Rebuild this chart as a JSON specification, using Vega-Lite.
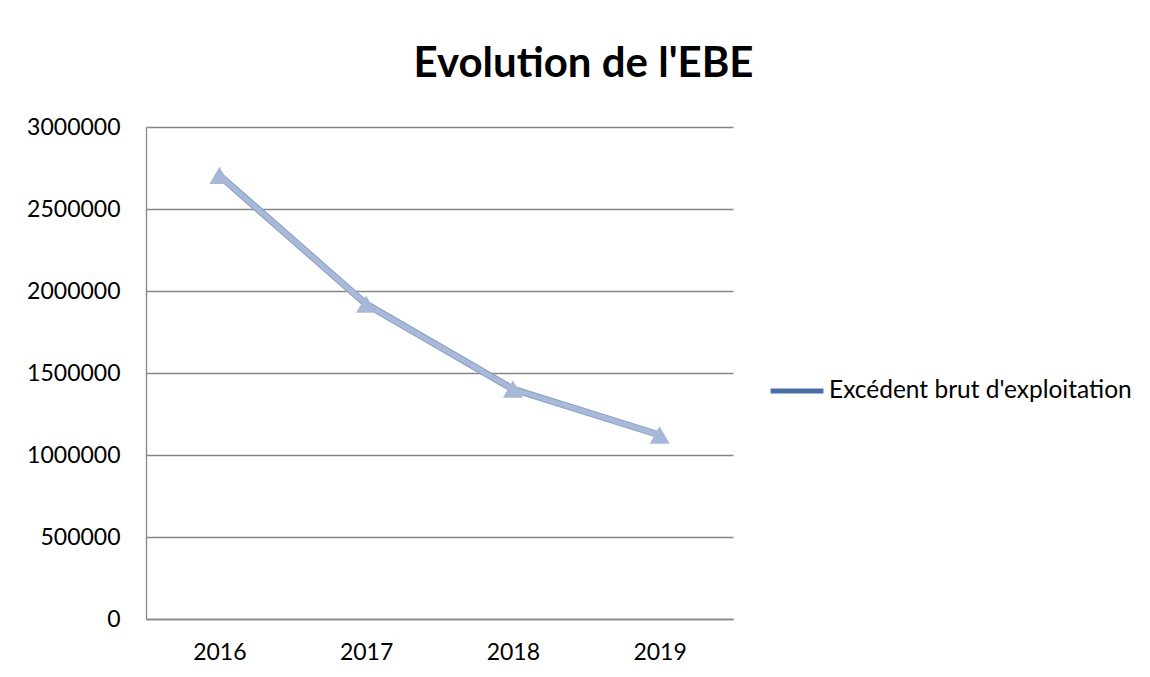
{
  "$schema": "https://vega.github.io/schema/vega-lite/v6.json",
  "width": 587,
  "height": 492,
  "autosize": {"type": "none"},
  "padding": {"left": 146, "top": 127, "right": 417, "bottom": 58},
  "background": "white",
  "title": {
    "text": "Evolution de l'EBE",
    "font": "Lato",
    "fontSize": 42,
    "fontWeight": "bold",
    "color": "#000000",
    "anchor": "middle",
    "frame": "group",
    "dx": 144,
    "offset": -3,
    "baseline": "alphabetic"
  },
  "data": {
    "values": [
      {"annee": "2016", "ebe": 2705000, "serie": "Excédent brut d'exploitation"},
      {"annee": "2017", "ebe": 1920000, "serie": "Excédent brut d'exploitation"},
      {"annee": "2018", "ebe": 1402000, "serie": "Excédent brut d'exploitation"},
      {"annee": "2019", "ebe": 1122000, "serie": "Excédent brut d'exploitation"}
    ]
  },
  "encoding": {
    "x": {
      "field": "annee",
      "type": "ordinal",
      "title": null,
      "scale": {"type": "point", "padding": 0.5},
      "axis": {"labelAngle": 0, "grid": false, "ticks": false, "labelPadding": 22, "domainColor": "#868686", "domainWidth": 1.3}
    },
    "y": {
      "field": "ebe",
      "type": "quantitative",
      "title": null,
      "scale": {"domain": [0, 3000000], "nice": false, "zero": true},
      "axis": {
        "values": [0, 500000, 1000000, 1500000, 2000000, 2500000, 3000000],
        "format": "d",
        "ticks": false,
        "labelPadding": 26,
        "grid": true,
        "gridColor": "#868686",
        "gridWidth": 1.3,
        "gridOpacity": 1,
        "domainColor": "#868686",
        "domainWidth": 1.3
      }
    }
  },
  "layer": [
    {
      "mark": {"type": "line", "strokeWidth": 5, "strokeJoin": "miter"},
      "encoding": {
        "color": {
          "field": "serie",
          "type": "nominal",
          "scale": {"range": ["#4a6fa6"]},
          "legend": {
            "title": null,
            "orient": "none",
            "legendX": 622,
            "legendY": 235,
            "padding": 0,
            "symbolType": "stroke",
            "symbolSize": 2800,
            "symbolStrokeWidth": 5,
            "labelFont": "Lato",
            "labelFontSize": 24.5,
            "labelColor": "#000000",
            "labelOffset": 3,
            "labelLimit": 500
          }
        }
      }
    },
    {
      "mark": {"type": "line", "color": "#8c9fc4", "strokeWidth": 7, "strokeJoin": "miter"},
      "encoding": {}
    },
    {
      "mark": {"type": "line", "color": "#a8b9d9", "strokeWidth": 5, "strokeJoin": "miter"},
      "encoding": {}
    },
    {
      "mark": {"type": "point", "shape": "triangle-up", "filled": true, "size": 400, "color": "#a6b7d7", "opacity": 1},
      "encoding": {}
    }
  ],
  "config": {
    "view": {"stroke": null},
    "axis": {"labelFont": "Lato", "labelFontSize": 23, "labelColor": "#000000"}
  }
}
